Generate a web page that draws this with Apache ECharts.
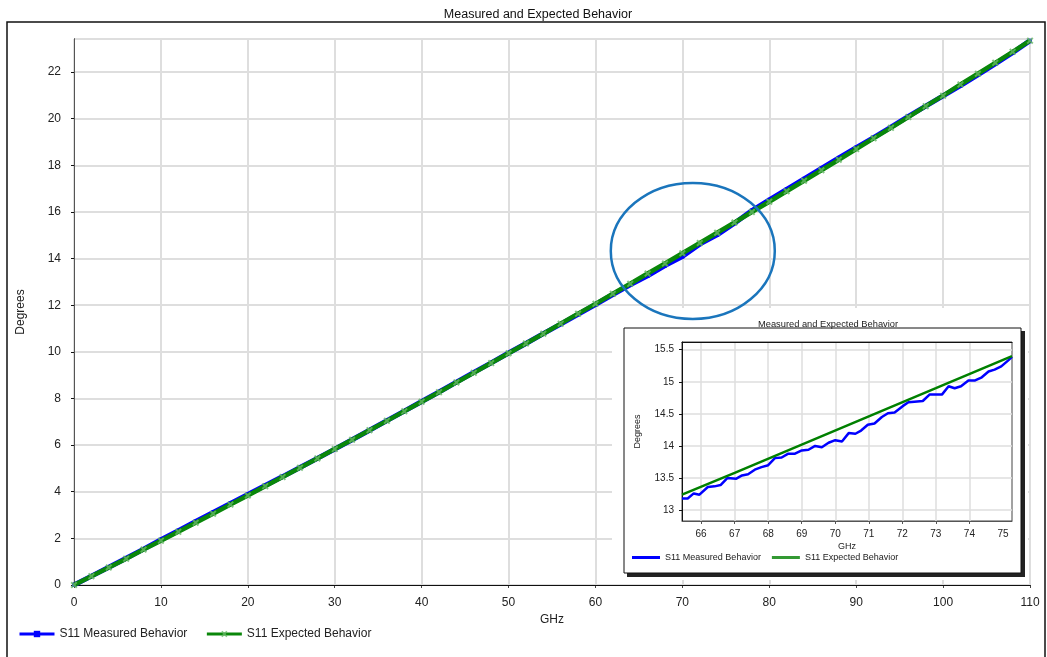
<!DOCTYPE html>
<html>
<head>
<meta charset="utf-8">
<script src="https://cdn.jsdelivr.net/npm/echarts@6/dist/echarts.min.js"></script>
<style>
  html, body { margin: 0; padding: 0; background: #fff; }
  #chart { width: 1047px; height: 657px; }
</style>
</head>
<body>
<div id="chart"></div>
<script>
// main chart, read every 2 GHz
const ghz = [0, 2, 4, 6, 8, 10, 12, 14, 16, 18, 20, 22, 24, 26, 28, 30, 32, 34, 36, 38,
  40, 42, 44, 46, 48, 50, 52, 54, 56, 58, 60, 62, 64, 66, 68, 70, 72, 74, 76, 78,
  80, 82, 84, 86, 88, 90, 92, 94, 96, 98, 100, 102, 104, 106, 108, 110];
const expected = [0.00, 0.38, 0.75, 1.13, 1.52, 1.90, 2.28, 2.67, 3.06, 3.45, 3.84, 4.24, 4.63, 5.03, 5.43, 5.83, 6.23, 6.64, 7.04, 7.45,
  7.86, 8.27, 8.69, 9.10, 9.52, 9.94, 10.36, 10.78, 11.21, 11.64, 12.06, 12.49, 12.92, 13.36, 13.79, 14.23, 14.67, 15.11, 15.55, 16.00,
  16.44, 16.89, 17.34, 17.79, 18.24, 18.70, 19.16, 19.61, 20.07, 20.54, 20.99, 21.47, 21.93, 22.40, 22.87, 23.35];
const measured = [0.00, 0.38, 0.76, 1.15, 1.54, 1.94, 2.33, 2.72, 3.11, 3.50, 3.88, 4.27, 4.65, 5.04, 5.43, 5.83, 6.23, 6.64, 7.05, 7.46,
  7.87, 8.28, 8.70, 9.12, 9.53, 9.95, 10.36, 10.78, 11.19, 11.61, 12.03, 12.46, 12.88, 13.26, 13.70, 14.09, 14.62, 15.02, 15.52, 16.06,
  16.52, 16.97, 17.42, 17.87, 18.32, 18.76, 19.19, 19.64, 20.10, 20.54, 20.98, 21.42, 21.88, 22.35, 22.83, 23.35];

// zoomed inset, 65.4 - 75.3 GHz
const insetMeasGhz = [65.43, 65.6, 65.78, 65.95, 66.2, 66.4, 66.58, 66.78, 67.05, 67.22, 67.4, 67.6, 67.8, 68.0, 68.2, 68.4, 68.6,
  68.8, 69.0, 69.2, 69.4, 69.6, 69.8, 70.0, 70.2, 70.4, 70.6, 70.77, 70.97, 71.17, 71.39, 71.57, 71.77, 72.01, 72.18, 72.36,
  72.61, 72.81, 73.0, 73.18, 73.38, 73.56, 73.75, 73.97, 74.17, 74.37, 74.57, 74.75, 74.95, 75.15, 75.27];
const insetMeas = [13.18, 13.18, 13.26, 13.24, 13.36, 13.37, 13.39, 13.50, 13.49, 13.54, 13.56, 13.63, 13.67, 13.70, 13.81, 13.82, 13.88,
  13.88, 13.93, 13.94, 14.00, 13.98, 14.05, 14.09, 14.07, 14.20, 14.19, 14.24, 14.33, 14.35, 14.45, 14.51, 14.52, 14.62, 14.68, 14.69,
  14.70, 14.80, 14.80, 14.80, 14.93, 14.90, 14.93, 15.02, 15.02, 15.07, 15.16, 15.19, 15.24, 15.33, 15.39];
const insetExpGhz = [65.43, 67, 69, 71, 73, 75.27];
const insetExp = [13.24, 13.58, 14.02, 14.46, 14.90, 15.40];

const insetXTicks = [66, 67, 68, 69, 70, 71, 72, 73, 74];
const insetXLabels = [66, 67, 68, 69, 70, 71, 72, 73, 74, 75];
const insetYTicks = [13, 13.5, 14, 14.5, 15, 15.5];

const FONT = 'Liberation Sans, Arial, sans-serif';
const xMark = 'path://M0,2L2,0L5,3L8,0L10,2L7,5L10,8L8,10L5,7L2,10L0,8L3,5Z';

const chart = echarts.init(document.getElementById('chart'));

// plain frame line used for the top / right edges of a plot
const edge = (color) => ({
  show: true, lineStyle: { color: color, width: 1 }
});

const option = {
  animation: false,
  backgroundColor: '#fff',
  textStyle: { fontFamily: FONT },
  title: [
    { text: 'Measured and Expected Behavior', left: 533, top: 3, textAlign: 'center',
      textStyle: { fontSize: 12.5, fontWeight: 'normal', color: '#111', fontFamily: FONT } },
    { text: 'Measured and Expected Behavior', left: 823, top: 315, textAlign: 'center', z: 8,
      textStyle: { fontSize: 9.3, fontWeight: 'normal', color: '#222', fontFamily: FONT } }
  ],
  legend: [
    {
      left: 18, top: 628, padding: 0, itemWidth: 35, itemHeight: 8, itemGap: 18, selectedMode: false,
      lineStyle: { width: 3 },
      textStyle: { fontSize: 12, color: '#222', fontFamily: FONT },
      data: ['S11 Measured Behavior', 'S11 Expected Behavior']
    },
    {
      left: 632, top: 553, padding: 0, itemWidth: 28, itemHeight: 3, itemGap: 11, selectedMode: false, z: 8,
      icon: 'rect',
      textStyle: { fontSize: 9, color: '#222', fontFamily: FONT },
      data: [
        { name: 'S11 Measured Behavior', itemStyle: { color: '#0000ff' } },
        { name: 'S11 Expected Behavior', itemStyle: { color: '#008000' } }
      ]
    }
  ],
  grid: [
    { left: 74, top: 39, width: 956, height: 546, show: true, borderColor: '#222', borderWidth: 1 },
    { left: 682, top: 342, width: 330, height: 179, show: true, borderColor: '#444', borderWidth: 1, z: 5 }
  ],
  xAxis: [
    {
      gridIndex: 0, type: 'value', min: 0, max: 110, interval: 10,
      name: 'GHz', nameLocation: 'middle', nameGap: 29,
      nameTextStyle: { fontSize: 12, color: '#222' },
      axisLine: { lineStyle: { color: '#444', width: 1 } },
      axisTick: { show: true, length: 3, lineStyle: { color: '#444' } },
      axisLabel: { fontSize: 12, color: '#222', margin: 12 },
      splitLine: { lineStyle: { color: '#dedede', width: 2 } }
    },
    {
      gridIndex: 1, type: 'value', min: 65.43, max: 75.27, z: 5,
      name: 'GHz', nameLocation: 'middle', nameGap: 21,
      nameTextStyle: { fontSize: 9, color: '#222' },
      axisLine: { lineStyle: { color: '#555', width: 1 } },
      axisTick: { show: true, length: 3, customValues: insetXTicks, lineStyle: { color: '#555' } },
      axisLabel: { fontSize: 10, color: '#222', margin: 8, customValues: insetXLabels },
      splitLine: { lineStyle: { color: '#dedede', width: 1.5 } }
    },
    {
      gridIndex: 0, type: 'value', position: 'top', min: 0, max: 110, z: 1,
      axisLine: edge('#111'), axisTick: { show: false }, axisLabel: { show: false }, splitLine: { show: false }
    },
    {
      gridIndex: 1, type: 'value', position: 'top', min: 65.43, max: 75.27, z: 6,
      axisLine: edge('#111'), axisTick: { show: false }, axisLabel: { show: false }, splitLine: { show: false }
    }
  ],
  yAxis: [
    {
      gridIndex: 0, type: 'value', min: 0, max: 23.42, interval: 2,
      name: 'Degrees', nameLocation: 'middle', nameGap: 47,
      nameTextStyle: { fontSize: 12, color: '#222' },
      axisLine: { show: true, lineStyle: { color: '#111', width: 1 } },
      axisTick: { show: true, length: 3, lineStyle: { color: '#111' } },
      axisLabel: { fontSize: 12, color: '#222', margin: 13, showMaxLabel: false },
      splitLine: { lineStyle: { color: '#dedede', width: 2 } }
    },
    {
      gridIndex: 1, type: 'value', min: 12.83, max: 15.62, z: 5,
      name: 'Degrees', nameLocation: 'middle', nameGap: 40,
      nameTextStyle: { fontSize: 9, color: '#222' },
      axisLine: { show: true, lineStyle: { color: '#111', width: 1 } },
      axisTick: { show: true, length: 3, customValues: insetYTicks, lineStyle: { color: '#111' } },
      axisLabel: { fontSize: 10, color: '#222', margin: 8, customValues: insetYTicks },
      splitLine: { lineStyle: { color: '#dedede', width: 1.5 } }
    },
    {
      gridIndex: 0, type: 'value', position: 'right', min: 0, max: 23.42, z: 1,
      axisLine: edge('#555'), axisTick: { show: false }, axisLabel: { show: false }, splitLine: { show: false }
    }
  ],
  series: [
    {
      name: 'S11 Measured Behavior', type: 'line', xAxisIndex: 0, yAxisIndex: 0,
      data: ghz.map((g, i) => [g, measured[i]]),
      symbol: 'rect', symbolSize: 4, showSymbol: true,
      itemStyle: { color: '#0000ff' },
      lineStyle: { color: '#0000ff', width: 5 },
      z: 2
    },
    {
      name: 'S11 Expected Behavior', type: 'line', xAxisIndex: 0, yAxisIndex: 0,
      data: ghz.map((g, i) => [g, expected[i]]),
      symbol: xMark, symbolSize: 7, showSymbol: true,
      itemStyle: { color: '#66b866', opacity: 0.8 },
      lineStyle: { color: '#0a870a', width: 4.5 },
      z: 3
    },
    {
      name: 'S11 Measured Behavior', type: 'line', xAxisIndex: 1, yAxisIndex: 1,
      data: insetMeasGhz.map((g, i) => [g, insetMeas[i]]),
      symbol: 'none', lineStyle: { color: '#0000ff', width: 2.5 },
      itemStyle: { color: '#0000ff' },
      z: 7
    },
    {
      name: 'S11 Expected Behavior', type: 'line', xAxisIndex: 1, yAxisIndex: 1,
      data: insetExpGhz.map((g, i) => [g, insetExp[i]]),
      symbol: 'none', lineStyle: { color: '#008000', width: 2.5 },
      itemStyle: { color: '#008000' },
      z: 7
    }
  ]
};

chart.setOption(option);

// annotation: outer frame, inset panel and the highlight ellipse
const c = chart.convertToPixel({ gridIndex: 0 }, [71.2, 14.33]);
chart.setOption({
  graphic: [
    { type: 'rect', z: 1, silent: true,
      shape: { x: 7, y: 22, width: 1038, height: 660 },
      style: { fill: 'transparent', stroke: '#111', lineWidth: 1.5 } },
    { type: 'rect', z: 1, silent: true,
      shape: { x: 612, y: 308, width: 416, height: 272 },
      style: { fill: '#fff' } },
    { type: 'rect', z: 1, silent: true,
      shape: { x: 627, y: 331, width: 398, height: 246 },
      style: { fill: '#222' } },
    { type: 'rect', z: 1, silent: true,
      shape: { x: 624, y: 328, width: 397, height: 245 },
      style: { fill: '#fff', stroke: '#111', lineWidth: 1 } },
    { type: 'ellipse', z: 10, silent: true,
      shape: { cx: c[0], cy: c[1], rx: 82, ry: 68 },
      style: { fill: 'transparent', stroke: '#1a75bc', lineWidth: 2.5 } }
  ]
});
</script>
</body>
</html>
